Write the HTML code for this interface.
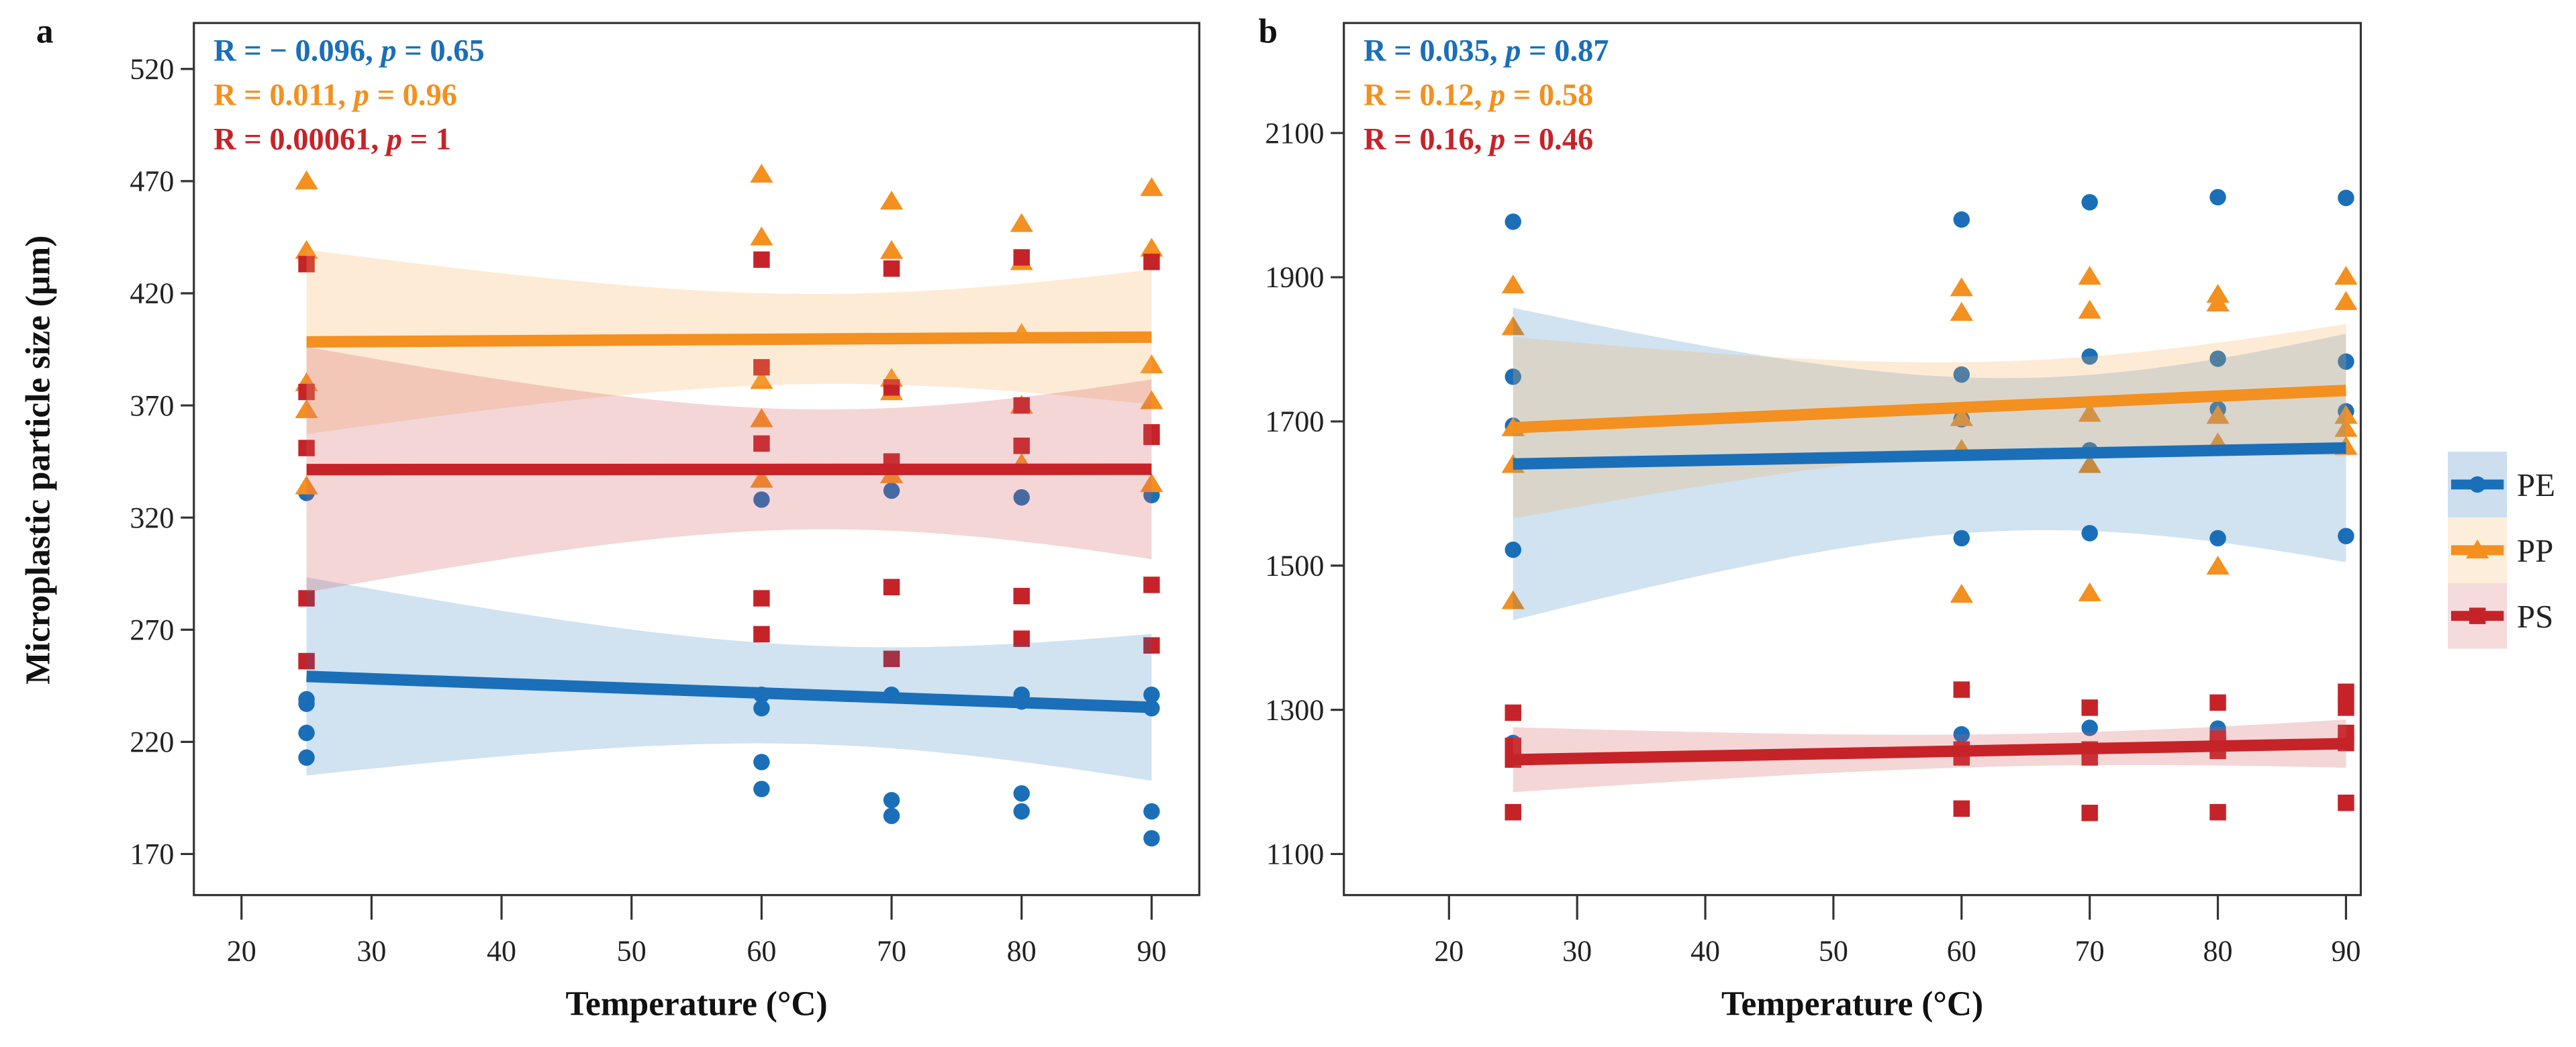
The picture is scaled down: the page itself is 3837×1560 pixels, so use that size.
<!DOCTYPE html>
<html><head><meta charset="utf-8"><style>
html,body{margin:0;padding:0;background:#fff;}
svg{display:block;}
text{font-family:"Liberation Serif",serif;}
</style></head><body>
<svg id="fig" width="3837" height="1560" viewBox="0 0 1568 637.5" xmlns="http://www.w3.org/2000/svg"></svg>
<script>
const xVals=[25,60,70,80,90];
const aPE=[[331,239,237,224,213],[328,241,235,211,199],[332,241,194,187],[329,241,238,197,189],[330,241,235,189,177]];
const aPP=[[470,439,380,368,334],[473,445,381,364,337],[461,439,382,376,339],[451,434,402,370,344],[467,440,388,372,335]];
const aPS=[[433,376,351,284,256],[435,387,353,284,268],[431,378,345,289,257],[436,370,352,285,266],[434,358,356,290,263]];
const bPE=[[1977,1762,1694,1522,1254],[1980,1765,1703,1538,1266],[2004,1790,1660,1545,1275],[2011,1787,1717,1538,1274],[2010,1783,1714,1541,1257]];
const bPP=[[1889,1831,1691,1640,1451],[1885,1851,1705,1661,1460],[1901,1854,1711,1640,1462],[1876,1864,1708,1670,1499],[1901,1866,1708,1665,1690]];
const bPS=[[1296,1239,1231,1158,1250],[1328,1245,1234,1163,1240],[1303,1234,1157,1245],[1310,1252,1243,1158,1260],[1325,1303,1268,1254,1171]];
const aYTicks=[170,220,270,320,370,420,470,520];
const bYTicks=[1100,1300,1500,1700,1900,2100];
const xTicks=[20,30,40,50,60,70,80,90];
const aStats=["R = − 0.096, ","R = 0.011, ","R = 0.00061, "];
const aP=["0.65","0.96","1"];
const bStats=["R = 0.035, ","R = 0.12, ","R = 0.16, "];
const bP=["0.87","0.58","0.46"];
const names=["PE","PP","PS"];
const colors=["#1a6fb8","#f39020","#c62329"];
const fills=["#1a6fb8","#f8b15c","#d45a60"];
const NS="http://www.w3.org/2000/svg";
const svg=document.getElementById('fig');
function mk(tag,attrs,parent){const e=document.createElementNS(NS,tag);for(const k in attrs)e.setAttribute(k,attrs[k]);(parent||svg).appendChild(e);return e;}

function panel(cfg){
  const g=mk('g',{});
  
  
  const X=v=>cfg.x0+(v-20)*cfg.xs;
  const Y=v=>cfg.y0+(cfg.ymax-v)*cfg.ys;
  cfg.series.forEach((s,si)=>{
    s.forEach((grp,gi)=>grp.forEach(v=>{
      const cx=X(xVals[gi]),cy=Y(v);let m;
      if(si===0)m=mk('circle',{cx:cx,cy:cy,r:5,fill:colors[0]},g);
      else if(si===1)m=mk('polygon',{points:`${cx},${cy-6.5} ${cx-7},${cy+5} ${cx+7},${cy+5}`,fill:colors[1]},g);
      else m=mk('rect',{x:cx-5,y:cy-5,width:10,height:10,fill:colors[2]},g);
      
      
    }));
  });
  const fits=cfg.series.map(s=>{
    const xs=[],ys=[];s.forEach((grp,gi)=>grp.forEach(v=>{xs.push(xVals[gi]);ys.push(v);}));
    const n=xs.length,mx=xs.reduce((a,b)=>a+b)/n,my=ys.reduce((a,b)=>a+b)/n;
    let sxx=0,sxy=0;xs.forEach((x,i)=>{sxx+=(x-mx)**2;sxy+=(x-mx)*(ys[i]-my);});
    const b=sxy/sxx,a=my-b*mx;let sse=0;xs.forEach((x,i)=>{sse+=(ys[i]-a-b*x)**2;});
    const se=Math.sqrt(sse/(n-2));return {a,b,mx,sxx,n,se};
  });
  fits.forEach((f,si)=>{
    const up=[],lo=[];
    for(let x=25;x<=90.001;x+=1){const yh=f.a+f.b*x;const w=2.07*f.se*Math.sqrt(1/f.n+(x-f.mx)**2/f.sxx);up.push(X(x)+','+Y(yh+w));lo.unshift(X(x)+','+Y(yh-w));}
    const p=mk('polygon',{points:up.concat(lo).join(' '),fill:fills[si],'fill-opacity':si===0?0.2:0.25},g);
    
    
  });
  fits.forEach((f,si)=>{
    const l=mk('line',{x1:X(25),y1:Y(f.a+f.b*25),x2:X(90),y2:Y(f.a+f.b*90),stroke:colors[si],'stroke-width':7},g);
    
    
  });
  const box=mk('rect',{x:cfg.bx0,y:14,width:cfg.bx1-cfg.bx0,height:531,fill:'none',stroke:'#333','stroke-width':1.3},g);
  
  
  cfg.yTicks.forEach(t=>{
    mk('line',{x1:cfg.bx0-8,x2:cfg.bx0,y1:Y(t),y2:Y(t),stroke:'#333','stroke-width':1.3},g);
    const tx=mk('text',{x:cfg.bx0-12,y:Y(t)+6,'text-anchor':'end','font-size':18,fill:'#222'},g);
    tx.textContent=t;
    
    
  });
  xTicks.forEach(t=>{
    mk('line',{x1:X(t),x2:X(t),y1:545,y2:560,stroke:'#333','stroke-width':1.3},g);
    const tx=mk('text',{x:X(t),y:585,'text-anchor':'middle','font-size':18,fill:'#222'},g);
    tx.textContent=t;
    
    
  });
  const xt=mk('text',{x:(cfg.bx0+cfg.bx1)/2,y:618,'text-anchor':'middle','font-size':21,'font-weight':'bold',fill:'#111'},g);
  xt.textContent='Temperature (°C)';
  
  
  const lab=mk('text',{x:cfg.labX,y:26,'font-size':21,'font-weight':'bold',fill:'#111'},g);
  lab.textContent=cfg.label;
  
  
  cfg.stats.forEach((s,i)=>{
    const t=mk('text',{x:cfg.bx0+12,y:37+i*27,'font-size':19,'font-weight':'bold',fill:colors[i]},g);
    
    
    const t1=mk('tspan',{},t);t1.textContent=s;
    const t2=mk('tspan',{'font-style':'italic'},t);t2.textContent='p';
    const t3=mk('tspan',{},t);t3.textContent=' = '+cfg.ps[i];
  });
}
panel({name:'panel-a',label:'a',labX:22,bx0:118,bx1:730,x0:147,xs:7.914,y0:42,ymax:520,ys:478/350,series:[aPE,aPP,aPS],yTicks:aYTicks,stats:aStats,ps:aP});
panel({name:'panel-b',label:'b',labX:766,bx0:818,bx1:1437,x0:882,xs:7.8,y0:81,ymax:2100,ys:439/1000,series:[bPE,bPP,bPS],yTicks:bYTicks,stats:bStats,ps:bP});
const yt=mk('text',{x:0,y:0,transform:'translate(30,280) rotate(-90)','text-anchor':'middle','font-size':21,'font-weight':'bold',fill:'#111'});
yt.textContent='Microplastic particle size (µm)';


names.forEach((nm,i)=>{
  const cy=295+i*40;
  const lg=mk('g',{});
  
  
  mk('rect',{x:1490,y:cy-20,width:36,height:40,fill:fills[i],'fill-opacity':0.22},lg);
  mk('line',{x1:1492,x2:1524,y1:cy,y2:cy,stroke:colors[i],'stroke-width':6},lg);
  if(i===0)mk('circle',{cx:1508,cy:cy,r:5,fill:colors[0]},lg);
  else if(i===1)mk('polygon',{points:`1508,${cy-6.5} 1501,${cy+5} 1515,${cy+5}`,fill:colors[1]},lg);
  else mk('rect',{x:1503,y:cy-5,width:10,height:10,fill:colors[2]},lg);
  const t=mk('text',{x:1532,y:cy+7,'font-size':20,fill:'#222'},lg);t.textContent=nm;
});
</script>
</body></html>
